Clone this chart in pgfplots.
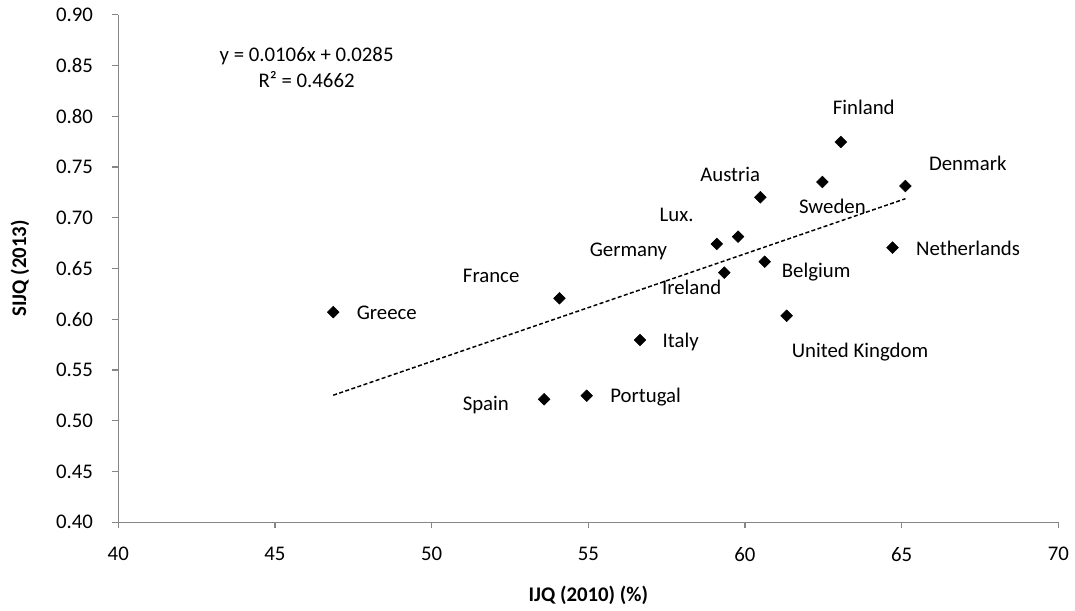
\documentclass[border=0pt]{standalone}
\usepackage{fontspec}
\setmainfont{Carlito}
\usepackage{pgfplots}
\pgfplotsset{compat=1.18}
\definecolor{axgray}{RGB}{134,134,134}
\newcommand\cf{\fontsize{15.6}{18.7}\selectfont}
\begin{document}
\begin{tikzpicture}
\path[use as bounding box] (-88.7pt,-66.5pt) rectangle (717.5pt,391.7pt);
\begin{axis}[
  at={(0pt,0pt)}, anchor=south west,
  scale only axis, width=705pt, height=380.6pt,
  xmin=40, xmax=70, ymin=0.4, ymax=0.9,
  xtick={40,45,50,55,60,65,70},
  ytick={0.40,0.45,0.50,0.55,0.60,0.65,0.70,0.75,0.80,0.85,0.90},
  axis x line*=bottom, axis y line*=left,
  axis line style={axgray, line width=1pt},
  tick style={axgray, line width=1pt},
  tick align=outside, major tick length=4.5pt,
  /pgf/number format/assume math mode=true,
  ticklabel style={font=\cf, text=black},
  xticklabel style={anchor=center, yshift=-19.5pt},
  yticklabel style={anchor=east, xshift=-11pt, /pgf/number format/.cd, fixed, fixed zerofill, precision=2},
  clip=false,
]
\addplot[black, line width=1.1pt, dash pattern=on 3pt off 1.8pt] coordinates {(46.86,0.5252) (65.12,0.7188)};
\addplot[only marks, mark=square*, mark size=3.1pt, mark options={rotate=45, fill=black, draw=black}] coordinates {
  (46.86,0.607) (54.08,0.6207) (56.65,0.5796) (53.59,0.5212) (54.95,0.5247)
  (59.34,0.646) (60.63,0.6567) (61.33,0.6035) (63.06,0.7747) (62.47,0.7353)
  (65.12,0.7313) (60.49,0.7202) (59.78,0.6814) (59.10,0.6742) (64.71,0.6706)
};
\begin{scope}[every node/.style={font=\cf, text=black}]
\node at (axis cs:48.57,0.6059) {Greece};
\node at (axis cs:51.90,0.643) {France};
\node at (axis cs:57.95,0.5779) {Italy};
\node at (axis cs:51.73,0.5156) {Spain};
\node at (axis cs:56.83,0.5232) {Portugal};
\node at (axis cs:58.30,0.6315) {Ireland};
\node at (axis cs:56.28,0.6666) {Germany};
\node at (axis cs:57.82,0.7028) {Lux.};
\node at (axis cs:59.53,0.7429) {Austria};
\node at (axis cs:62.79,0.7109) {Sweden};
\node at (axis cs:63.79,0.8089) {Finland};
\node at (axis cs:67.11,0.7537) {Denmark};
\node at (axis cs:67.12,0.670) {Netherlands};
\node at (axis cs:62.27,0.6469) {Belgium};
\node at (axis cs:63.67,0.5675) {United Kingdom};
\node at (axis cs:46.01,0.8590) {y = 0.0106x + 0.0285};
\node at (axis cs:46.01,0.8360) {R² = 0.4662};
\end{scope}
\end{axis}
\node[font=\cf\bfseries] at (352.5pt,-54.5pt) {IJQ (2010) (\%)};
\node[font=\cf\bfseries, rotate=90] at (-73.7pt,190.3pt) {SIJQ (2013)};
\end{tikzpicture}
\end{document}
